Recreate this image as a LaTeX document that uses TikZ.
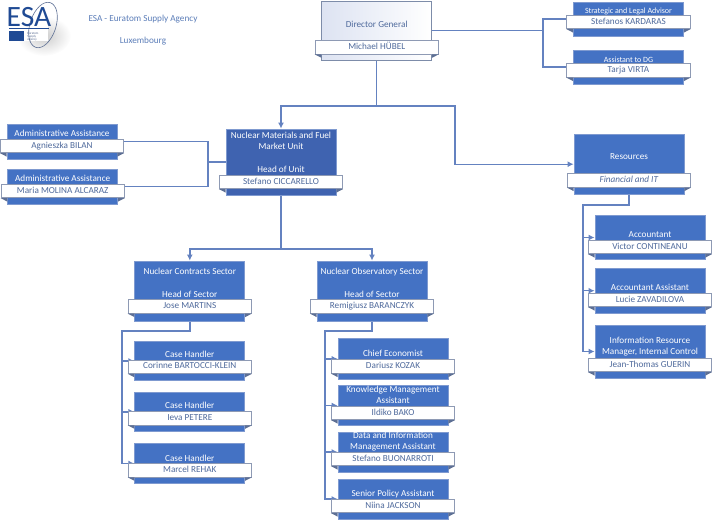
\documentclass[tikz,border=0pt]{standalone}
\usepackage{fontspec}
\setmainfont{Carlito}
\usetikzlibrary{arrows.meta, backgrounds}
\definecolor{esablue}{HTML}{4472C4}
\definecolor{unitblue}{HTML}{3F63B0}
\definecolor{edgeblue}{HTML}{7F9AD0}
\definecolor{linkblue}{HTML}{6482C0}
\definecolor{nametext}{HTML}{4F6A9C}
\definecolor{headtext}{HTML}{5B7DB8}
\definecolor{foldgrey}{HTML}{5D6F94}
\definecolor{logoblue}{HTML}{1F4A94}
\definecolor{dgtint}{HTML}{DDE3F2}
\tikzset{
    orgbox/.style={draw=edgeblue, line width=0.8pt, fill=esablue, minimum width=110pt, inner sep=0pt},
    titletext/.style={text=white, align=center, font=\fontsize{9.2}{11.3}\selectfont, inner sep=0pt},
    nameband/.style={draw=foldgrey!70, line width=0.7pt, fill=white, minimum width=123.5pt, minimum height=13.5pt,
        inner sep=0pt, text=nametext, text height=6pt, text depth=2pt, font=\fontsize{9.2}{11}\selectfont},
    link/.style={draw=linkblue, line width=1.4pt},
    arrowlink/.style={link, -{Latex[length=6pt,width=6pt]}},
}
% #1 box options, #2 name, #3 x, #4 y, #5 height, #6 title y, #7 title, #8 band y, #9 person
\newcommand{\staffbox}[9][]{
    \node[orgbox, minimum height=#5pt, #1] (#2) at (#3,#4) {};
    \node[titletext] (#2t) at (#3,#6) {#7};
    \node[nameband] (#2n) at (#3,#8) {#9};
    \fill[foldgrey] (#2n.south west) -- ++(6.75,0) -- ++(0,3.5) -- cycle;
    \fill[foldgrey] (#2n.south east) -- ++(-6.75,0) -- ++(0,3.5) -- cycle;
}
\begin{document}
\begin{tikzpicture}[x=1pt, y=-1pt]
    \useasboundingbox (0,0) rectangle (712,520);

    % logo
    \shade[inner color=black!20, outer color=white, draw=none] (44,36) ellipse (27 and 20);
    \fill[white] (9,4) rectangle (48,41);
    \draw[foldgrey, line width=0.6pt, rotate around={-18:(43,25)}] (43,25) ellipse (13 and 23.5);
    \node[inner sep=0pt, text=logoblue, text height=19pt, text depth=0pt] (esalogo) at (29,17) {\fontsize{29.5}{30}\selectfont ESA};
    \fill[logoblue] (9,28) rectangle (49,29.3);
    \fill[logoblue] (9,31) rectangle (24,40.5);
    \node[inner sep=0pt, text=foldgrey, align=left, font=\fontsize{3.2}{3.2}\selectfont] (esasmall) at (33,37) {Euratom\\Supply\\Agency};
    \node[text=headtext, inner sep=0pt, font=\fontsize{9.2}{11}\selectfont] (agency) at (143,19) {ESA - Euratom Supply Agency};
    \node[text=headtext, inner sep=0pt, font=\fontsize{9.2}{11}\selectfont] (city) at (143,41) {Luxembourg};

    % top level
    \staffbox[left color=dgtint, right color=white, draw=foldgrey!80]{dg}{376.7}{30.5}{59}{24}{\textcolor{nametext}{Director General}}{47.2}{Michael HÜBEL}
    \staffbox{adv}{628.5}{19}{34}{11.5}{\fontsize{8}{10}\selectfont Strategic and Legal Advisor}{22}{Stefanos KARDARAS}
    \staffbox{asst}{628.5}{67}{34}{59.5}{\fontsize{8}{10}\selectfont Assistant to DG}{70.5}{Tarja VIRTA}

    % unit
    \staffbox[fill=unitblue]{unit}{281}{162}{66}{152}{Nuclear Materials and Fuel\\Market Unit\\[11.3pt]Head of Unit}{182}{Stefano CICCARELLO}
    \staffbox{admone}{62}{141.5}{35}{133.5}{Administrative Assistance}{146}{Agnieszka BILAN}
    \staffbox{admtwo}{62.7}{186.5}{35}{178}{Administrative Assistance}{191}{Maria MOLINA ALCARAZ}

    % contracts sector
    \staffbox{ctr}{189.8}{291}{60}{283}{Nuclear Contracts Sector\\[11.3pt]Head of Sector}{306.5}{Jose MARTINS}
    \staffbox{caseone}{189.8}{361}{38.5}{354.3}{Case Handler}{366.7}{Corinne BARTOCCI-KLEIN}
    \staffbox{casetwo}{189.8}{411.8}{38.5}{405}{Case Handler}{418.2}{Ieva PETERE}
    \staffbox{casethree}{189.8}{463.5}{40}{458}{Case Handler}{470.2}{Marcel REHAK}

    % observatory sector
    \staffbox{obs}{372}{291}{60}{283}{Nuclear Observatory Sector\\[11.3pt]Head of Sector}{306.5}{Remigiusz BARANCZYK}
    \staffbox{chief}{393}{358.8}{40.5}{353}{Chief Economist}{366.5}{Dariusz KOZAK}
    \staffbox{know}{393}{405.5}{40}{394.5}{Knowledge Management\\Assistant}{413}{Ildiko BAKO}
    \staffbox{data}{393}{452}{40}{441.5}{Data and Information\\Management Assistant}{459}{Stefano BUONARROTI}
    \staffbox{policy}{393}{499}{40}{494}{Senior Policy Assistant}{506}{Niina JACKSON}

    % resources
    \staffbox{res}{629}{164.2}{60}{157}{Resources}{180.5}{\textit{Financial and IT}}
    \staffbox{acc}{650}{237.5}{44}{234.5}{Accountant}{247}{Victor CONTINEANU}
    \staffbox{accas}{650}{290.7}{44.5}{287}{Accountant Assistant}{300}{Lucie ZAVADILOVA}
    \staffbox{info}{650}{351.5}{53}{346.5}{Information Resource\\Manager, Internal Control}{365}{Jean-Thomas GUERIN}

    \coordinate (dgbus) at (376.7,106);
    \coordinate (dgside) at (543,30.5);
    \coordinate (resbend) at (455,164.2);
    \coordinate (admbus) at (208,162);
    \coordinate (unitbus) at (281,249);
    \coordinate (ctrbus) at (122,331);
    \coordinate (obsbus) at (325,331);
    \coordinate (resbus) at (583,205);

    \begin{scope}[on background layer]
        \draw[link] (dg.east) -- (dgside);
        \draw[link] (adv.west) -| (dgside) |- (asst.west);
        \draw[link] (dg.south) -- (dgbus);
        \draw[arrowlink] (dgbus) -| (unit.north);
        \draw[arrowlink] (dgbus) -| (resbend) -- (res.west);
        \draw[link] (unit.west) -- (admbus);
        \draw[link] (admone.east) -| (admbus) |- (admtwo.east);
        \draw[link] (unit.south) -- (unitbus);
        \draw[arrowlink] (unitbus) -| (ctr.north);
        \draw[arrowlink] (unitbus) -| (obs.north);
        \draw[arrowlink] (ctr.south) |- (ctrbus) |- (casethree.west);
        \foreach \b in {caseone,casetwo}
            \draw[arrowlink] (ctrbus |- \b.west) -- (\b.west);
        \draw[arrowlink] (obs.south) |- (obsbus) |- (policy.west);
        \foreach \b in {chief,know,data}
            \draw[arrowlink] (obsbus |- \b.west) -- (\b.west);
        \draw[arrowlink] (res.south) |- (resbus) |- (info.west);
        \foreach \b in {acc,accas}
            \draw[arrowlink] (resbus |- \b.west) -- (\b.west);
    \end{scope}
\end{tikzpicture}
\end{document}
